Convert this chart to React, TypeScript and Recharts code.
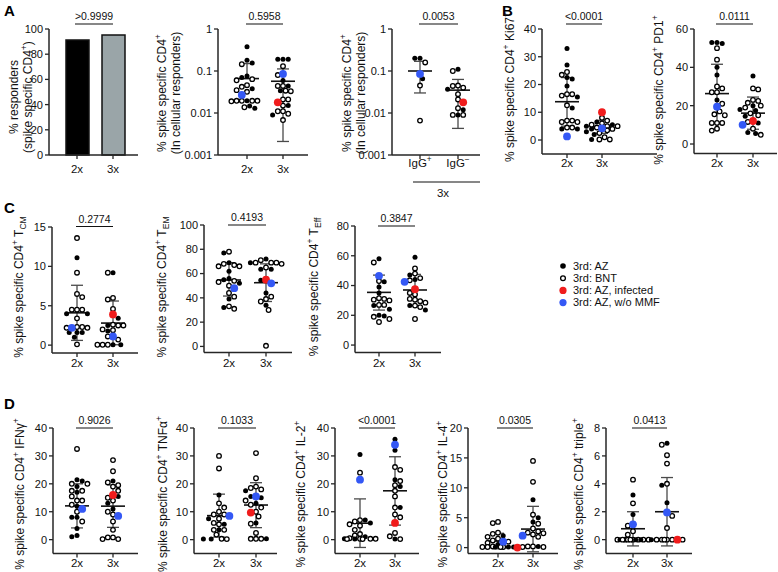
import React from "react";
import { ScatterChart, Scatter, XAxis, YAxis, ReferenceLine, BarChart, Bar, Cell } from "recharts";

const FONT = "'Liberation Sans', Arial, Helvetica, sans-serif";
const INK = "#111";
const AXIS = "#262626";
const WHISKER = "#4a4a4a";
const RED = "#f01c1c";
const BLUE = "#3458f5";

// ---- values ----
// kinds: F = 3rd AZ (filled), O = 3rd BNT (open), R = AZ infected, B = AZ w/o MMF
const groups = ["2x", "3x"];
const igLabels = ["IgG^{+}", "IgG^{−}"];
const respondersPct = [91.3, 95.2];

const cd4_2x = [0.38, 0.18, 0.155, 0.145, 0.076, 0.07, 0.064, 0.06, 0.046, 0.042, 0.038, 0.035, 0.032, 0.027, 0.0195, 0.0195, 0.0195, 0.0195, 0.0195, 0.019, 0.0147, 0.0137, 0.013];
const cd4_2xKind = "FFFOFFOOOOFOOBFOOOOOFOF";
const cd4_3x = [0.19, 0.19, 0.19, 0.13, 0.085, 0.08, 0.059, 0.044, 0.044, 0.044, 0.034, 0.034, 0.033, 0.021, 0.021, 0.018, 0.015, 0.015, 0.011, 0.011, 0.0096, 0.009, 0.0068];
const cd4_3xKind = "FFFOBOFOFOOFOOOROFOOOFO";
const cd4Mean = [0.066, 0.057];
const cd4Upper = [0.15, 0.112];
const cd4Lower = [null, 0.0021];

const igPos = [0.2, 0.2, 0.16, 0.085, 0.065, 0.045, 0.0066];
const igPosKind = "FFOBFOO";
const igNeg = [0.11, 0.1, 0.045, 0.044, 0.04, 0.037, 0.028, 0.021, 0.018, 0.013, 0.012, 0.009, 0.009, 0.009];
const igNegKind = "FOOOOFOOROFFOO";
const igMean = [0.1, 0.035];
const igUpper = [0.17, 0.063];
const igLower = [0.03, 0.0043];

const ki67_2x = [33, 27, 24.5, 23.5, 22.5, 22, 19.5, 16.5, 16.5, 16, 15.5, 12.5, 11.5, 7, 7, 6.5, 6.5, 4.5, 4.5, 4, 4, 1.3];
const ki67_2xKind = "FFOOFFFOOOFOFOOOOOOFFB";
const ki67_3x = [10, 8, 7, 6.5, 6, 5.5, 5.5, 5, 5, 5, 4.5, 4.2, 4, 4, 3.5, 3, 2.5, 2, 1, 0.2, 0.2, 0.2];
const ki67_3xKind = "ROOFOOFOOFOBOFOFOFOOOF";
const ki67Mean = [13.8, 4.7];
const ki67Upper = [22.5, 7.1];
const ki67Lower = [5, 2.4];

const pd1_2x = [53, 53, 52.5, 50, 44, 40, 36, 30, 29, 27, 27, 23, 21, 19.5, 17, 15.5, 15, 11, 11, 11, 8, 7];
const pd1_2xKind = "FFFOOFFOOOOFOBOOOOOOOO";
const pd1_3x = [35.5, 29, 28.5, 23, 22.5, 21.5, 20, 20, 19, 18, 17.5, 16, 15, 14.5, 12, 11.5, 11, 10, 8, 6, 5.5, 4.8];
const pd1_3xKind = "FOOOOOFOOFFOOFROFBOFFO";
const pd1Mean = [26.3, 16.1];
const pd1Upper = [41.6, 24.5];
const pd1Lower = [11, 7.7];

const tcm_2x = [13.6, 11.1, 9.2, 6.5, 6.1, 4.5, 4.5, 4.5, 4.0, 4.0, 3.4, 2.3, 2.3, 2.2, 2.2, 2.2, 1.6, 1.6, 1.6, 1.0, 0.1];
const tcm_2xKind = "OFOOOOOOFFOOOBOOFFFFO";
const tcm_3x = [9.2, 9.2, 6.0, 5.8, 4.6, 3.9, 3.4, 2.6, 2.5, 2.5, 2.5, 2.0, 1.9, 1.8, 1.1, 1.1, 0.7, 0.05, 0.05, 0.05, 0.05, 0.05];
const tcm_3xKind = "FOOOORFOOFOOOFBOOFOFOO";
const tcmMean = [4.1, 2.8];
const tcmUpper = [7.6, 5.6];
const tcmLower = [0.6, 0.05];

const tem_2x = [78, 77, 69, 68, 67, 66, 66, 62, 56, 55, 54, 53, 52, 50, 48, 44, 41, 39, 33, 32, 31];
const tem_2xKind = "OFFOOOOFFFOOFOBOOFOFO";
const tem_3x = [72, 71, 69, 69, 69, 69, 68, 65, 63.5, 63.5, 55, 54.5, 52, 44, 41, 39, 37, 34, 30, 0.5];
const tem_3xKind = "FOOOOFOOFFRFBFOOOFOO";
const temMean = [54.7, 52.5];
const temUpper = [69, 68];
const temLower = [41.5, 37];

const teff_2x = [58, 55.5, 46.5, 43, 42.5, 39, 35, 31.5, 31, 30.5, 30, 27, 27, 26.5, 24, 20, 19.5, 19, 17.5, 15.5];
const teff_2xKind = "FOBOFFFOOOOOOFFFFOOO";
const teff_3x = [59, 51.5, 48, 47, 45, 44, 43.5, 42.5, 37.5, 35, 34, 31, 30.5, 29.5, 28.5, 26.5, 26.5, 25.5, 23.5, 17.5];
const teff_3xKind = "FOOFOFOBROOOOOOOFOFO";
const teffMean = [35.4, 37];
const teffUpper = [47, 47.5];
const teffLower = [23.5, 26.5];

const ifn_2x = [32.5, 21.5, 21, 20, 20, 19, 17.5, 17.5, 17, 15.5, 14, 14, 12.5, 12, 11, 10, 8, 8, 6.5, 4, 1.5, 1];
const ifn_2xKind = "OFFOOFOOFOOOOFBOFFOFFF";
const ifn_3x = [28.5, 24.5, 21, 20.5, 19.5, 19, 17.5, 16, 15.5, 15, 14, 13, 11, 10, 9, 8.5, 6.5, 3.5, 0.8, 0.8, 0.2, 0.2];
const ifn_3xKind = "OOFOOOORFOOFFOOBOOOOOO";
const ifnMean = [12.1, 12];
const ifnUpper = [20, 19.6];
const ifnLower = [4.2, 4.4];

const tnf_2x = [30, 25.5, 16, 13, 11.5, 10, 9, 9, 8.5, 7.5, 7.5, 6, 5.5, 5.5, 3.5, 3.5, 3.5, 1.8, 0.3, 0.2, 0.2, 0.2];
const tnf_2xKind = "OOFOOOOOBOFOOFFOOOOFOF";
const tnf_3x = [31, 22, 19, 18.5, 18, 17.5, 15.5, 15.5, 15, 14, 13, 12.5, 11.5, 10, 9.7, 8.3, 6, 5.7, 2.4, 0.3, 0.3, 0.3, 0.3];
const tnf_3xKind = "OOOOOFBFFOFOOOROFOOOOOF";
const tnfMean = [8.6, 12.4];
const tnfUpper = [16.3, 20.4];
const tnfLower = [0.9, 4.3];

const il2_2x = [30.5, 24, 21.5, 7, 7, 6.5, 6, 5.5, 5, 3.5, 2, 1.5, 1, 0.5, 0.3, 0.3, 0.3, 0.3, 0.2, 0.2, 0.2];
const il2_2xKind = "FOBOFOFOOOOOFOOFOOFOO";
const il2_3x = [36, 34, 32, 26, 25, 21.5, 21, 19.5, 19, 17.5, 15.5, 11.5, 11.5, 9, 8, 6, 2.4, 1.2, 0.2, 0.2];
const il2_3xKind = "FBFOOFOOFOOOFOOROOFO";
const il2Mean = [5.9, 17.5];
const il2Upper = [14.6, 29.7];
const il2Lower = [-2.8, 5.2];

const il4_2x = [4.3, 4.1, 2.5, 2.3, 2, 1.8, 1.5, 1.2, 1.0, 1.0, 0.8, 0.5, 0.2, 0.1, 0.1, 0.1, 0.1, 0.1, 0.1, 0.1];
const il4_2xKind = "OOOOFOOOBOOFOOFOFOFO";
const il4_3x = [14.5, 11, 8, 5.5, 5, 4.3, 4, 3.2, 2.7, 2.5, 2.4, 2.2, 2, 1.8, 0.2, 0.2, 0.2, 0.1, 0.1, 0];
const il4_3xKind = "OOFOFFOOOOOOBOOOFOOR";
const il4Mean = [1.1, 3.1];
const il4Upper = [2.4, 6.9];
const il4Lower = [-0.2, -0.7];

const tri_2x = [4.3, 3.2, 2.6, 1.8, 1.1, 1.0, 0.6, 0.35, 0, 0, 0, 0, 0, 0, 0, 0, 0, 0, 0, 0];
const tri_2xKind = "OFOFBOOOOOOOOOFOFOFO";
const tri_3x = [6.9, 6.8, 6.05, 5.45, 4.0, 3.9, 2.65, 1.95, 1.7, 0.83, 0, 0, 0, 0, 0, 0, 0, 0];
const tri_3xKind = "FOOOOFFBOOOOOORFOO";
const triMean = [0.78, 2.0];
const triUpper = [2.0, 4.45];
const triLower = [-0.45, -0.45];

type Panel = {
  x0: number; x1: number; c: number[]; yTop: number; yBot: number;
  domain: [number, number]; ticks: number[]; log?: boolean;
  vals: number[][]; kinds: string[];
  mean: number[]; upper: number[]; lower: (number | null)[];
  xLabels: string[]; gap: number;
};

const LW = 44, MT = 6, MR = 4, XB = 34;

const lin = (a: number, b: number, s: number) => {
  const out: number[] = [];
  for (let v = a; v <= b + 1e-9; v += s) out.push(v);
  return out;
};

const panels: Panel[] = [
  { x0: 218, x1: 308, c: [247, 283], yTop: 29, yBot: 155, domain: [0.001, 1], ticks: [0.001, 0.01, 0.1, 1], log: true,
    vals: [cd4_2x, cd4_3x], kinds: [cd4_2xKind, cd4_3xKind], mean: cd4Mean, upper: cd4Upper, lower: cd4Lower, xLabels: groups, gap: 18 },
  { x0: 392, x1: 480, c: [420, 458], yTop: 29, yBot: 155, domain: [0.001, 1], ticks: [0.001, 0.01, 0.1, 1], log: true,
    vals: [igPos, igNeg], kinds: [igPosKind, igNegKind], mean: igMean, upper: igUpper, lower: igLower, xLabels: igLabels, gap: 12 },
  { x0: 542, x1: 657, c: [567, 602], yTop: 29, yBot: 153.9, domain: [-5, 40], ticks: lin(0, 40, 10),
    vals: [ki67_2x, ki67_3x], kinds: [ki67_2xKind, ki67_3xKind], mean: ki67Mean, upper: ki67Upper, lower: ki67Lower, xLabels: groups, gap: 13.5 },
  { x0: 694, x1: 777, c: [717, 753], yTop: 29, yBot: 153.6, domain: [-5, 60], ticks: lin(0, 60, 20),
    vals: [pd1_2x, pd1_3x], kinds: [pd1_2xKind, pd1_3xKind], mean: pd1Mean, upper: pd1Upper, lower: pd1Lower, xLabels: groups, gap: 13.5 },
  { x0: 52, x1: 138, c: [77, 113], yTop: 226.7, yBot: 352.7, domain: [-1, 15], ticks: lin(0, 15, 5),
    vals: [tcm_2x, tcm_3x], kinds: [tcm_2xKind, tcm_3xKind], mean: tcmMean, upper: tcmUpper, lower: tcmLower, xLabels: groups, gap: 14 },
  { x0: 204, x1: 292, c: [229, 266], yTop: 225, yBot: 352.5, domain: [-5, 100], ticks: lin(0, 100, 20),
    vals: [tem_2x, tem_3x], kinds: [tem_2xKind, tem_3xKind], mean: temMean, upper: temUpper, lower: temLower, xLabels: groups, gap: 14 },
  { x0: 355, x1: 441, c: [379, 415], yTop: 226, yBot: 352.5, domain: [-5, 80], ticks: lin(0, 80, 20),
    vals: [teff_2x, teff_3x], kinds: [teff_2xKind, teff_3xKind], mean: teffMean, upper: teffUpper, lower: teffLower, xLabels: groups, gap: 14 },
  { x0: 53, x1: 138, c: [77, 113], yTop: 427.7, yBot: 553.3, domain: [-5, 40], ticks: lin(0, 40, 10),
    vals: [ifn_2x, ifn_3x], kinds: [ifn_2xKind, ifn_3xKind], mean: ifnMean, upper: ifnUpper, lower: ifnLower, xLabels: groups, gap: 13 },
  { x0: 194, x1: 277, c: [219, 256], yTop: 427.7, yBot: 553.3, domain: [-5, 40], ticks: lin(0, 40, 10),
    vals: [tnf_2x, tnf_3x], kinds: [tnf_2xKind, tnf_3xKind], mean: tnfMean, upper: tnfUpper, lower: tnfLower, xLabels: groups, gap: 13 },
  { x0: 335, x1: 419, c: [360, 395], yTop: 427.7, yBot: 553.3, domain: [-5, 40], ticks: lin(0, 40, 10),
    vals: [il2_2x, il2_3x], kinds: [il2_2xKind, il2_3xKind], mean: il2Mean, upper: il2Upper, lower: il2Lower, xLabels: groups, gap: 13 },
  { x0: 468, x1: 558, c: [498, 533], yTop: 427.7, yBot: 553.3, domain: [-1, 20], ticks: lin(0, 20, 5),
    vals: [il4_2x, il4_3x], kinds: [il4_2xKind, il4_3xKind], mean: il4Mean, upper: il4Upper, lower: il4Lower, xLabels: groups, gap: 13 },
  { x0: 606, x1: 692, c: [633, 667], yTop: 427.7, yBot: 553.3, domain: [-1, 8], ticks: lin(0, 8, 2),
    vals: [tri_2x, tri_3x], kinds: [tri_2xKind, tri_3xKind], mean: triMean, upper: triUpper, lower: triLower, xLabels: groups, gap: 13 },
];

// rotated axis titles: [centre x, centre y, lines]
const titles: [number, number, string[]][] = [
  [13, 97, ["% responders", "(spike specific CD4^{+})"]],
  [161, 93, ["% spike specific CD4^{+}", "(In cellular responders)"]],
  [346, 93, ["% spike specific CD4^{+}", "(In cellular responders)"]],
  [509, 87, ["% spike specific CD4^{+} Ki67^{+}"]],
  [658, 90, ["% spike specific CD4^{+} PD1^{+}"]],
  [18, 287, ["% spike specific CD4^{+} T_{CM}"]],
  [161, 287, ["% spike specific CD4^{+} T_{EM}"]],
  [313, 287, ["% spike specific CD4^{+} T_{Eff}"]],
  [19, 494, ["% spike specific CD4^{+} IFNγ^{+}"]],
  [162, 494, ["% spike specific CD4^{+} TNFα^{+}"]],
  [300, 494, ["% spike specific CD4^{+} IL-2^{+}"]],
  [442, 494, ["% spike specific CD4^{+} IL-4^{+}"]],
  [578, 494, ["% spike specific CD4^{+} triple^{+}"]],
];

// significance brackets: [x1, x2, y, p]
const brackets: [number, number, number, string][] = [
  [75, 113, 24, ">0.9999"],
  [246, 283, 24, "0.5958"],
  [419, 458, 24, "0.0053"],
  [566, 602, 24, "<0.0001"],
  [716, 753, 24, "0.0111"],
  [76, 113, 226.5, "0.2774"],
  [228, 266, 225, "0.4193"],
  [378, 415, 226, "0.3847"],
  [76, 113, 428, "0.9026"],
  [218, 256, 428, "0.1033"],
  [359, 395, 428, "<0.0001"],
  [497, 533, 428, "0.0305"],
  [632, 667, 428, "0.0413"],
];

const legendItems = [
  ["F", "3rd: AZ"],
  ["O", "3rd: BNT"],
  ["R", "3rd: AZ, infected"],
  ["B", "3rd: AZ, w/o MMF"],
];

function parseRich(s: string) {
  const out: { t: string; k: string }[] = [];
  const re = /([\^_])\{([^}]*)\}/g;
  let last = 0;
  let m: RegExpExecArray | null;
  while ((m = re.exec(s))) {
    if (m.index > last) out.push({ t: s.slice(last, m.index), k: "" });
    out.push({ t: m[2], k: m[1] });
    last = re.lastIndex;
  }
  if (last < s.length) out.push({ t: s.slice(last), k: "" });
  return out;
}

function richSpans(s: string, fs: number) {
  let cur = 0;
  return parseRich(s).map((seg, i) => {
    const target = seg.k === "^" ? -0.4 * fs : seg.k === "_" ? 0.28 * fs : 0;
    const dy = target - cur;
    cur = target;
    return (
      <tspan key={i} dy={dy} fontSize={seg.k ? fs * 0.72 : fs}>
        {seg.t}
      </tspan>
    );
  });
}

function Dot(props: any) {
  const { cx, cy, payload } = props;
  if (cx == null || cy == null) return null;
  if (payload.k === "F") return <circle cx={cx} cy={cy} r={2.5} fill="#000" />;
  if (payload.k === "O") return <circle cx={cx} cy={cy} r={2.3} fill="#fff" stroke="#000" strokeWidth={1.3} />;
  return <circle cx={cx} cy={cy} r={3.9} fill={payload.k === "R" ? RED : BLUE} />;
}

// simple beeswarm so that points of one group do not sit on top of each other
function swarm(vals: number[], kinds: string, cx: number, toPx: (v: number) => number) {
  const order = vals.map((_, i) => i).sort((a, b) => vals[b] - vals[a]);
  const placed: { dx: number; py: number }[] = [];
  const out: { x: number; y: number; k: string }[] = [];
  const D = 5.2, STEP = 2.6, MAXOFF = 18;
  order.forEach((i, n) => {
    const py = toPx(vals[i]);
    let best = 0, bestScore = -1;
    const sgn = n % 2 === 0 ? 1 : -1;
    outer: for (let s = 0; s * STEP <= MAXOFF; s++) {
      const offs = s === 0 ? [0] : [sgn * s * STEP, -sgn * s * STEP];
      for (const off of offs) {
        let minD = Infinity;
        for (const q of placed) minD = Math.min(minD, Math.hypot(q.dx - off, q.py - py));
        if (minD >= D) { best = off; break outer; }
        if (minD > bestScore) { bestScore = minD; best = off; }
      }
    }
    placed.push({ dx: best, py });
    out.push({ x: cx + best, y: vals[i], k: kinds[i] });
  });
  return out;
}

const rank = (k: string) => (k === "R" || k === "B" ? 1 : 0);

function XTick(props: any) {
  const { x, y, index, labels, gap } = props;
  return (
    <text x={x} y={y - 4 + gap} dy="0.35em" textAnchor="middle" fill={INK} fontSize={11.5} fontFamily={FONT}>
      {richSpans(labels[index] ?? "", 11.5)}
    </text>
  );
}

const yTick = { fill: INK, fontSize: 11, fontFamily: FONT };
const axisLine = { stroke: AXIS, strokeWidth: 1.5 };
const tickLine = { stroke: AXIS, strokeWidth: 1.3 };

function ScatterPanel({ p }: { p: Panel }) {
  const W = p.x1 - p.x0;
  const H = p.yBot - p.yTop;
  const [lo, hi] = p.domain;
  const toPx = p.log
    ? (v: number) => ((Math.log10(hi) - Math.log10(v)) / (Math.log10(hi) - Math.log10(lo))) * H
    : (v: number) => ((hi - v) / (hi - lo)) * H;
  const cx = p.c.map((c) => c - p.x0);
  const pts = [
    ...swarm(p.vals[0], p.kinds[0], cx[0], toPx),
    ...swarm(p.vals[1], p.kinds[1], cx[1], toPx),
  ].sort((a, b) => rank(a.k) - rank(b.k));

  const lines: React.ReactNode[] = [];
  cx.forEach((c, g) => {
    const m = p.mean[g], u = p.upper[g], l = p.lower[g];
    lines.push(
      <ReferenceLine key={`v${g}`} segment={[{ x: c, y: l == null ? m : l }, { x: c, y: u }]} stroke={WHISKER} strokeWidth={1.3} ifOverflow="visible" />,
      <ReferenceLine key={`u${g}`} segment={[{ x: c - 6, y: u }, { x: c + 6, y: u }]} stroke={WHISKER} strokeWidth={1.3} ifOverflow="visible" />,
      <ReferenceLine key={`m${g}`} segment={[{ x: c - 12, y: m }, { x: c + 12, y: m }]} stroke="#111" strokeWidth={1.6} ifOverflow="visible" />
    );
    if (l != null)
      lines.push(
        <ReferenceLine key={`l${g}`} segment={[{ x: c - 6, y: l }, { x: c + 6, y: l }]} stroke={WHISKER} strokeWidth={1.3} ifOverflow="visible" />
      );
  });

  return (
    <div style={{ position: "absolute", left: p.x0 - LW, top: p.yTop - MT }}>
      <ScatterChart width={LW + W + MR} height={MT + H + XB} margin={{ top: MT, right: MR, left: 0, bottom: 0 }}>
        <XAxis
          type="number"
          dataKey="x"
          domain={[0, W]}
          ticks={cx}
          allowDataOverflow
          height={XB}
          axisLine={axisLine}
          tickLine={tickLine}
          tickSize={4}
          tickMargin={0}
          tick={(tp: any) => <XTick {...tp} labels={p.xLabels} gap={p.gap} />}
        />
        <YAxis
          type="number"
          dataKey="y"
          domain={p.domain}
          ticks={p.ticks}
          scale={p.log ? "log" : "linear"}
          allowDataOverflow
          width={LW}
          axisLine={axisLine}
          tickLine={tickLine}
          tickSize={4}
          tickMargin={2}
          tick={yTick}
          tickFormatter={(v: number) => String(v)}
        />
        <Scatter data={pts} shape={Dot} isAnimationActive={false} />
        {lines}
      </ScatterChart>
    </div>
  );
}

function RespondersPanel() {
  const data = groups.map((g, i) => ({ g, v: respondersPct[i] }));
  const W = 138 - 49, H = 155 - 29;
  return (
    <div style={{ position: "absolute", left: 49 - LW, top: 29 - MT }}>
      <BarChart width={LW + W + MR} height={MT + H + XB} data={data} margin={{ top: MT, right: MR, left: 0, bottom: 0 }} barSize={23}>
        <XAxis
          dataKey="g"
          type="category"
          padding={{ left: 10, right: 7 }}
          height={XB}
          axisLine={axisLine}
          tickLine={tickLine}
          tickSize={4}
          tickMargin={0}
          tick={(tp: any) => <XTick {...tp} labels={groups} gap={18} />}
        />
        <YAxis
          type="number"
          domain={[0, 100]}
          ticks={lin(0, 100, 20)}
          width={LW}
          axisLine={axisLine}
          tickLine={tickLine}
          tickSize={4}
          tickMargin={2}
          tick={yTick}
        />
        <Bar dataKey="v" stroke="#111" strokeWidth={1.5} isAnimationActive={false}>
          <Cell fill="#000" />
          <Cell fill="#9aa5a8" />
        </Bar>
      </BarChart>
    </div>
  );
}

function Overlay() {
  const tf = 12;
  return (
    <svg width={778} height={572} style={{ position: "absolute", left: 0, top: 0, pointerEvents: "none" }} fontFamily={FONT}>
      {[["A", 4, 16], ["B", 502, 16], ["C", 4, 213], ["D", 4, 409]].map(([t, x, y]) => (
        <text key={t as string} x={x as number} y={y as number} fontSize={15} fontWeight="bold" fill="#000">
          {t}
        </text>
      ))}
      {titles.map(([x, y, ls], i) =>
        ls.map((s, j) => (
          <text
            key={`${i}-${j}`}
            transform={`translate(${x + j * 14 + 4.5},${y}) rotate(-90)`}
            textAnchor="middle"
            fill={INK}
            fontSize={tf}
          >
            {richSpans(s, tf)}
          </text>
        ))
      )}
      {brackets.map(([a, b, y, t], i) => (
        <g key={i}>
          <line x1={a} x2={b} y1={y} y2={y} stroke={INK} strokeWidth={1.2} />
          <text x={(a + b) / 2} y={y - 4} textAnchor="middle" fontSize={10.5} fill={INK}>
            {t}
          </text>
        </g>
      ))}
      <line x1={413} x2={480} y1={182} y2={182} stroke={INK} strokeWidth={1.2} />
      <text x={443} y={193} dy="0.35em" textAnchor="middle" fontSize={11.5} fill={INK}>
        3x
      </text>
      {legendItems.map(([k, label], i) => {
        const y = 266 + i * 12.2;
        return (
          <g key={k}>
            {k === "F" && <circle cx={563} cy={y} r={2.8} fill="#000" />}
            {k === "O" && <circle cx={563} cy={y} r={2.4} fill="#fff" stroke="#000" strokeWidth={1.3} />}
            {k === "R" && <circle cx={563} cy={y} r={3.6} fill={RED} />}
            {k === "B" && <circle cx={563} cy={y} r={3.6} fill={BLUE} />}
            <text x={573} y={y} dy="0.35em" fontSize={11} fill={INK}>
              {label}
            </text>
          </g>
        );
      })}
    </svg>
  );
}

export default function App() {
  return (
    <div style={{ position: "absolute", left: 0, top: 0, width: 778, height: 572, background: "#fff", overflow: "hidden" }}>
      <RespondersPanel />
      {panels.map((p, i) => (
        <ScatterPanel key={i} p={p} />
      ))}
      <Overlay />
    </div>
  );
}
